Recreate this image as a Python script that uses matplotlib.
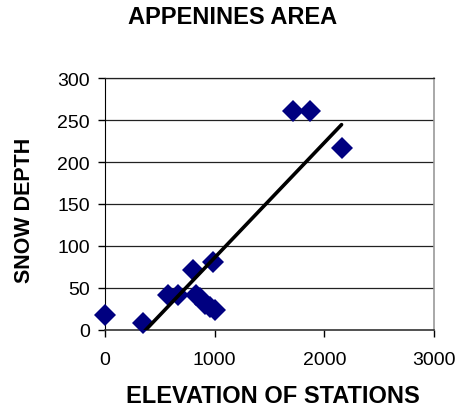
import numpy as np
import matplotlib.pyplot as plt

plt.rcParams['font.family'] = ['Liberation Sans', 'DejaVu Sans']

# Station data
elevation = [0, 344, 572, 664, 801, 984, 832, 870, 908, 960, 1000, 1715, 1867, 2157]
snow_depth = [17, 8, 42, 41, 71, 81, 41, 38, 31, 27, 23, 261, 261, 217]

x_ticks = [0, 1000, 2000, 3000]
y_ticks = [0, 50, 100, 150, 200, 250, 300]

fig = plt.figure(figsize=(4.61, 4.10), dpi=100)
ax = fig.add_axes([105 / 461, 1 - 330.7 / 410, (434 - 105) / 461, (330.7 - 79.3) / 410])

# horizontal gridlines
for yv in y_ticks[1:]:
    ax.axhline(yv, color="#222222", linewidth=0.9, zorder=1)

ax.plot(elevation, snow_depth, linestyle="none", marker="D", markersize=11.5,
        color="#000080", markeredgewidth=0, zorder=3, clip_on=False)

# linear trendline over the data range
slope, intercept = np.polyfit(elevation, snow_depth, 1)
xs = np.array([min(elevation), max(elevation)])
ax.plot(xs, slope * xs + intercept, color="black", linewidth=2.6,
        solid_capstyle="round", zorder=4)

ax.set_xlim(0, 3000)
ax.set_ylim(0, 300)
ax.set_xticks(x_ticks)
ax.set_yticks(y_ticks)
ax.tick_params(axis="both", direction="out", length=5, width=1, labelsize=14,
               colors="black")
ax.tick_params(axis="x", pad=10)
ax.tick_params(axis="y", pad=6)

ax.spines["left"].set_color("black")
ax.spines["bottom"].set_color("#333333")
ax.spines["bottom"].set_linewidth(1.2)
ax.spines["top"].set_color("#222222")
ax.spines["top"].set_linewidth(0.9)
ax.spines["right"].set_color("#999999")
ax.spines["right"].set_linewidth(1.2)
for sp in ax.spines.values():
    sp.set_zorder(2)

fig.text(233 / 461, 1 - 18 / 410, "APPENINES AREA", ha="center", va="center",
         fontsize=17, fontweight="bold")
fig.text(273 / 461, 1 - 397 / 410, "ELEVATION OF STATIONS", ha="center", va="center",
         fontsize=17, fontweight="bold")
fig.text(25 / 461, 1 - 210 / 410, "SNOW DEPTH", ha="center", va="center",
         rotation=90, fontsize=15.5, fontweight="bold")

fig.savefig("out.png", dpi=100)
